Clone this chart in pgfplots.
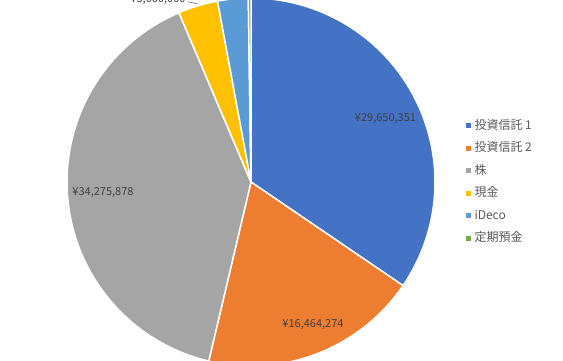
\documentclass[border=0pt]{standalone}
\usepackage{pgfplots}
\pgfplotsset{compat=1.18}
\usepackage{pgfplotstable}
\usepackage{fontspec}
\setmainfont{Noto Sans CJK JP}
\usepgflibrary{fpu}

\definecolor{s0}{HTML}{4472C4}
\definecolor{s1}{HTML}{ED7D31}
\definecolor{s2}{HTML}{A5A5A5}
\definecolor{s3}{HTML}{FFC000}
\definecolor{s4}{HTML}{5B9BD5}
\definecolor{s5}{HTML}{70AD47}
\definecolor{lbl}{HTML}{404040}
\definecolor{leg}{HTML}{595959}

\pgfplotstableread{
name val
t1 29650351
t2 16464274
kabu 34275878
cash 3000000
ideco 2300000
teiki 200000
}\piedata

\newcommand\fpuparse[1]{\begingroup\pgfkeys{/pgf/fpu=true,/pgf/fpu/output format=fixed}\pgfmathparse{#1}\xdef\fpuresult{\pgfmathresult}\endgroup}

\gdef\pietotal{0}
\foreach \i in {0,...,5}{%
  \pgfplotstablegetelem{\i}{val}\of\piedata
  \fpuparse{\pietotal+\pgfplotsretval}\global\let\pietotal\fpuresult}
\gdef\piecum{0}
\expandafter\xdef\csname pieang0\endcsname{90}
\foreach \i in {0,...,5}{%
  \pgfplotstablegetelem{\i}{val}\of\piedata
  \fpuparse{\piecum+\pgfplotsretval}\global\let\piecum\fpuresult
  \fpuparse{90-360*\piecum/\pietotal}%
  \pgfmathtruncatemacro\j{\i+1}%
  \expandafter\xdef\csname pieang\j\endcsname{\fpuresult}}

\def\cx{251}
\def\cy{178}
\def\rr{184}

\begin{document}
\begin{tikzpicture}
\useasboundingbox (0,0) rectangle (563pt,360pt);
\clip (0,0) rectangle (563pt,360pt);
\begin{axis}[
  at={(0,0)}, anchor=south west,
  width=563pt, height=360pt, scale only axis,
  xmin=0, xmax=563, ymin=0, ymax=360,
  hide axis, clip=false,
  legend image code/.code={\fill[#1, draw=none] (0pt,-2.5pt) rectangle (5pt,2.5pt);},
  legend style={draw=none, fill=none, at={(axis cs:466,240)}, anchor=north west,
    font=\fontsize{12}{14}\selectfont, text=leg, row sep=11.5pt,
    inner sep=0pt, outer sep=0pt,
    nodes={inner sep=0pt, text height=9pt, text depth=2pt},
    /tikz/every odd column/.style={column sep=3.5pt}},
  legend cell align=left,
]
\pgfplotsinvokeforeach{0,...,5}{
  \addplot[forget plot, fill=s#1, draw=white, line width=1.5pt, line join=round,
    domain={\csname pieang\the\numexpr#1+1\relax\endcsname}:{\csname pieang#1\endcsname},
    samples=120, variable=\t]
    ({\cx+\rr*cos(\t)},{\cy+\rr*sin(\t)}) -- (axis cs:\cx,\cy) -- cycle;
}
\addlegendimage{fill=s0}\addlegendentry{投資信託 1}
\addlegendimage{fill=s1}\addlegendentry{投資信託 2}
\addlegendimage{fill=s2}\addlegendentry{株}
\addlegendimage{fill=s3}\addlegendentry{現金}
\addlegendimage{fill=s4}\addlegendentry{iDeco}
\addlegendimage{fill=s5}\addlegendentry{定期預金}

\addplot[forget plot, color=leg, line width=0.5pt] coordinates {(188,358.3) (198,356)};

\begin{scope}[every node/.style={font=\fontsize{11}{13}\selectfont, text=lbl, inner sep=0pt}]
\node at (axis cs:385.5,241) {¥29,650,351};
\node at (axis cs:313,35) {¥16,464,274};
\node at (axis cs:103,167) {¥34,275,878};
\node[anchor=base] at (axis cs:158,357.5) {¥3,000,000};
\end{scope}
\end{axis}
\end{tikzpicture}
\end{document}
